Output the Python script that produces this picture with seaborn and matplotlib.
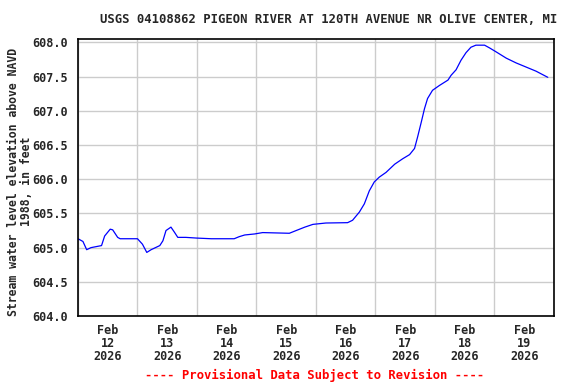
import matplotlib

matplotlib.use("Agg")
import matplotlib.dates as mdates
import matplotlib.pyplot as plt
import pandas as pd
import seaborn as sns

TITLE = "USGS 04108862 PIGEON RIVER AT 120TH AVENUE NR OLIVE CENTER, MI"
YLABEL = "Stream water level elevation above NAVD\n1988, in feet"
FOOTER = "---- Provisional Data Subject to Revision ----"

times = [
    "2026-02-12 00:00", "2026-02-12 02:00", "2026-02-12 03:30", "2026-02-12 05:15",
    "2026-02-12 09:30", "2026-02-12 10:45", "2026-02-12 13:00", "2026-02-12 14:00",
    "2026-02-12 16:00", "2026-02-12 17:00", "2026-02-13 00:00", "2026-02-13 02:00",
    "2026-02-13 03:45", "2026-02-13 05:30", "2026-02-13 09:00", "2026-02-13 10:15",
    "2026-02-13 11:30", "2026-02-13 13:30", "2026-02-13 15:00", "2026-02-13 16:15",
    "2026-02-13 19:30", "2026-02-13 23:45", "2026-02-14 05:45", "2026-02-14 15:00",
    "2026-02-14 17:00", "2026-02-14 19:15", "2026-02-14 23:15", "2026-02-15 02:30",
    "2026-02-15 13:15", "2026-02-15 16:00", "2026-02-15 19:30", "2026-02-15 22:45",
    "2026-02-16 04:00", "2026-02-16 12:45", "2026-02-16 14:45", "2026-02-16 17:30",
    "2026-02-16 19:30", "2026-02-16 21:30", "2026-02-16 23:30", "2026-02-17 01:30",
    "2026-02-17 04:15", "2026-02-17 07:45", "2026-02-17 11:00", "2026-02-17 13:45",
    "2026-02-17 15:45", "2026-02-17 17:00", "2026-02-17 18:30", "2026-02-17 19:45",
    "2026-02-17 21:00", "2026-02-17 23:00", "2026-02-18 01:45", "2026-02-18 05:15",
    "2026-02-18 06:30", "2026-02-18 08:30", "2026-02-18 10:30", "2026-02-18 12:30",
    "2026-02-18 14:30", "2026-02-18 16:30", "2026-02-18 20:00", "2026-02-18 22:00",
    "2026-02-19 00:45", "2026-02-19 04:45", "2026-02-19 08:45", "2026-02-19 12:45",
    "2026-02-19 16:45", "2026-02-19 21:30",
]
elevation = [
    605.13, 605.09, 604.97, 605.00, 605.03, 605.17, 605.27, 605.26,
    605.15, 605.13, 605.13, 605.05, 604.93, 604.97, 605.03, 605.10,
    605.25, 605.30, 605.22, 605.15, 605.15, 605.14, 605.13, 605.13,
    605.16, 605.185, 605.20, 605.22, 605.21, 605.25, 605.30, 605.34,
    605.36, 605.365, 605.40, 605.52, 605.64, 605.83, 605.96, 606.03,
    606.10, 606.22, 606.30, 606.36, 606.45, 606.62, 606.84, 607.03,
    607.18, 607.30, 607.37, 607.45, 607.52, 607.60, 607.74, 607.85,
    607.93, 607.96, 607.96, 607.92, 607.86, 607.77, 607.70, 607.64,
    607.58, 607.49,
]
y_ticks = [604.0, 604.5, 605.0, 605.5, 606.0, 606.5, 607.0, 607.5, 608.0]

df = pd.DataFrame({"time": pd.to_datetime(times), "elev": elevation})

sns.set_style("white")
plt.rcParams["font.family"] = ["DejaVu Sans Mono"]
plt.rcParams["font.weight"] = "bold"

fig = plt.figure(figsize=(5.76, 3.84), dpi=100)
ax = fig.add_axes([0.1354, 0.177, 0.8264, 0.7214])

sns.lineplot(data=df, x="time", y="elev", ax=ax, color="#0000ff", linewidth=0.9)

start = pd.Timestamp("2026-02-12")
end = pd.Timestamp("2026-02-20")
ax.set_xlim(start, end)
ax.set_ylim(604.0, 608.05)

days = pd.date_range(start, end, freq="D")
ax.set_xticks(days, minor=True)
ax.set_xticks(days[:-1] + pd.Timedelta(hours=12))
ax.xaxis.set_major_formatter(mdates.DateFormatter("%b\n%d\n%Y"))
ax.set_yticks(y_ticks)
ax.set_yticklabels([f"{v:.1f}" for v in y_ticks])

ax.grid(False)
ax.grid(True, which="minor", axis="x", color="#cccccc", linewidth=1)
ax.grid(True, which="major", axis="y", color="#cccccc", linewidth=1)
ax.tick_params(axis="both", which="both", length=0, labelsize=8.5)
ax.tick_params(axis="x", pad=6)
ax.tick_params(axis="y", pad=7)
for lbl in ax.get_xticklabels() + ax.get_yticklabels():
    lbl.set_fontweight("bold")
    lbl.set_linespacing(1.0)

for sp in ax.spines.values():
    sp.set_color("black")
    sp.set_linewidth(1.2)

ax.set_xlabel("")
ax.set_ylabel(YLABEL, fontsize=8.3, fontweight="bold", linespacing=1.0)
ax.yaxis.set_label_coords(-0.094, 0.485)

fig.text(0.57, 0.95, TITLE, ha="center", va="center", fontsize=8.8, fontweight="bold")
fig.text(0.547, 0.023, FOOTER, ha="center", va="center", fontsize=8.8,
         fontweight="bold", color="#ff0000")

fig.savefig("out.png", dpi=100)
